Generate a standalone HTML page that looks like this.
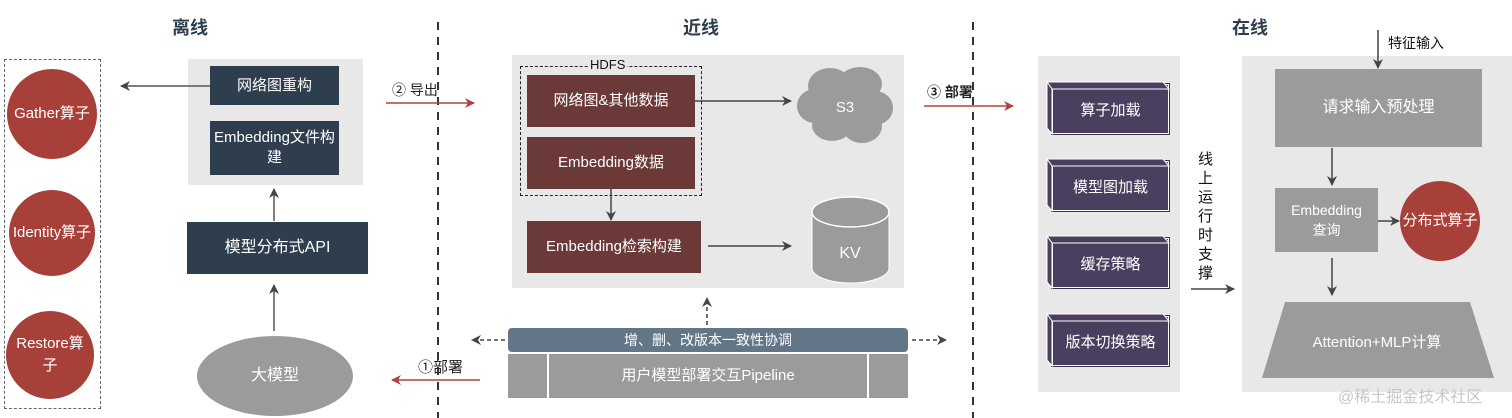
<!DOCTYPE html>
<html><head><meta charset="utf-8"><style>
*{margin:0;padding:0;box-sizing:border-box}
body{width:1512px;height:418px;background:#fff;position:relative;overflow:hidden;font-family:"Liberation Sans","Noto Sans CJK SC",sans-serif}
.a{position:absolute}
.box{position:absolute;display:flex;align-items:center;justify-content:center;text-align:center;color:#fff;font-size:15px;line-height:20px}
.h{position:absolute;font-size:18px;font-weight:bold;color:#2e3e4e}
.circ{position:absolute;border-radius:50%;background:#a8403a;color:#fff;display:flex;align-items:center;justify-content:center;text-align:center;font-size:15px;line-height:22px}
.pb{position:absolute;background:#4b3f5f;border:1.5px solid #fff;outline:1px solid #3a3048;color:#fff;display:flex;align-items:center;justify-content:center;font-size:15px}
</style></head><body>
<div class="h" style="left:172px;top:14px">离线</div>
<div class="h" style="left:683px;top:14px">近线</div>
<div class="h" style="left:1232px;top:14px">在线</div>

<div class="a" style="left:4px;top:59px;width:97px;height:350px;border:1.5px dashed #666"></div>
<div class="circ" style="left:7px;top:69px;width:90px;height:90px">Gather算子</div>
<div class="circ" style="left:9px;top:190px;width:86px;height:86px">Identity算子</div>
<div class="circ" style="left:6px;top:311px;width:88px;height:88px;padding:0 8px">Restore算子</div>

<div class="a" style="left:188px;top:59px;width:175px;height:126px;background:#e8e8e8"></div>
<div class="box" style="left:210px;top:66px;width:129px;height:39px;background:#2e3e4e">网络图重构</div>
<div class="box" style="left:210px;top:121px;width:129px;height:54px;background:#2e3e4e">Embedding文件构建</div>
<div class="box" style="left:187px;top:222px;width:181px;height:52px;background:#2e3e4e;font-size:16px">模型分布式API</div>
<div class="box" style="left:197px;top:336px;width:156px;height:80px;border-radius:50%;background:#9b9b9b;font-size:16px">大模型</div>

<div class="a" style="left:392px;top:80px;font-size:14px;color:#222">② 导出</div>
<div class="a" style="left:418px;top:356px;font-size:15px;color:#222">①部署</div>
<div class="a" style="left:927px;top:82px;font-size:14px;font-weight:bold;color:#222">③ 部署</div>

<div class="a" style="left:512px;top:55px;width:392px;height:233px;background:#e8e8e8"></div>
<div class="a" style="left:520px;top:66px;width:182px;height:130px;border:1.5px dashed #222"></div>
<div class="a" style="left:588px;top:57px;font-size:13px;color:#111;background:#e8e8e8;padding:0 2px">HDFS</div>
<div class="box" style="left:527px;top:75px;width:168px;height:52px;background:#6b3937">网络图&amp;其他数据</div>
<div class="box" style="left:527px;top:137px;width:168px;height:52px;background:#6b3937">Embedding数据</div>
<div class="box" style="left:527px;top:221px;width:174px;height:52px;background:#6b3937">Embedding检索构建</div>

<div class="box" style="left:508px;top:328px;width:400px;height:24px;background:#627688;border-radius:4px;font-size:14px">增、删、改版本一致性协调</div>
<div class="box" style="left:508px;top:354px;width:400px;height:44px;background:#9b9b9b;font-size:15px">用户模型部署交互Pipeline</div>
<div class="a" style="left:547px;top:354px;width:2px;height:44px;background:#fff"></div>
<div class="a" style="left:867px;top:354px;width:2px;height:44px;background:#fff"></div>

<div class="a" style="left:1038px;top:56px;width:142px;height:336px;background:#e8e8e8"></div>
<div class="pb" style="left:1052px;top:84px;width:117px;height:50px">算子加载</div>
<div class="pb" style="left:1052px;top:161px;width:117px;height:50px">模型图加载</div>
<div class="pb" style="left:1052px;top:238px;width:117px;height:50px">缓存策略</div>
<div class="pb" style="left:1052px;top:316px;width:117px;height:50px">版本切换策略</div>
<div class="a" style="left:1198px;top:150px;width:18px;font-size:15px;line-height:19px;color:#111">线上运行时支撑</div>

<div class="a" style="left:1242px;top:56px;width:270px;height:336px;background:#e8e8e8"></div>
<div class="a" style="left:1388px;top:33px;font-size:14px;color:#111">特征输入</div>
<div class="box" style="left:1275px;top:69px;width:207px;height:78px;background:#9b9b9b;font-size:16px">请求输入预处理</div>
<div class="box" style="left:1275px;top:188px;width:103px;height:64px;background:#9b9b9b;font-size:14px">Embedding<br>查询</div>
<div class="circ" style="left:1400px;top:181px;width:80px;height:80px;font-size:15px">分布式算子</div>
<div class="a" style="left:1338px;top:383px;font-size:16px;color:#c8c8c8">@稀土掘金技术社区</div>

<svg class="a" style="left:0;top:0" width="1512" height="418">
<defs>
<marker id="g" markerWidth="10" markerHeight="10" refX="9" refY="5" orient="auto" markerUnits="userSpaceOnUse"><path d="M0,0 L10,5 L0,10 L3,5z" fill="#444"/></marker>
<marker id="r" markerWidth="10" markerHeight="10" refX="9" refY="5" orient="auto" markerUnits="userSpaceOnUse"><path d="M0,0 L10,5 L0,10 L3,5z" fill="#b0413e"/></marker>
</defs>
<line x1="438" y1="22" x2="438" y2="418" stroke="#333" stroke-width="2" stroke-dasharray="8,7"/>
<line x1="973" y1="22" x2="973" y2="418" stroke="#333" stroke-width="2" stroke-dasharray="8,7"/>
<line x1="210" y1="86" x2="121" y2="86" stroke="#555" stroke-width="1.5" marker-end="url(#g)"/>
<line x1="274" y1="221" x2="274" y2="189" stroke="#555" stroke-width="1.5" marker-end="url(#g)"/>
<line x1="274" y1="331" x2="274" y2="285" stroke="#555" stroke-width="1.5" marker-end="url(#g)"/>
<line x1="386" y1="103" x2="474" y2="103" stroke="#b0413e" stroke-width="1.5" marker-end="url(#r)"/>
<line x1="480" y1="380" x2="392" y2="380" stroke="#b0413e" stroke-width="1.5" marker-end="url(#r)"/>
<line x1="924" y1="106" x2="1013" y2="106" stroke="#b0413e" stroke-width="1.5" marker-end="url(#r)"/>
<line x1="611" y1="189" x2="611" y2="220" stroke="#444" stroke-width="1.5" marker-end="url(#g)"/>
<line x1="695" y1="101" x2="791" y2="101" stroke="#444" stroke-width="1.5" marker-end="url(#g)"/>
<line x1="708" y1="246" x2="791" y2="246" stroke="#444" stroke-width="1.5" marker-end="url(#g)"/>
<g fill="#9b9b9b">
<ellipse cx="845" cy="105" rx="40" ry="28"/><ellipse cx="830" cy="86" rx="22" ry="18"/><ellipse cx="860" cy="84" rx="22" ry="17"/>
<ellipse cx="815" cy="106" rx="18" ry="17"/><ellipse cx="875" cy="108" rx="18" ry="17"/><ellipse cx="832" cy="125" rx="20" ry="16"/><ellipse cx="862" cy="126" rx="20" ry="17"/>
</g>
<text x="845" y="112" font-size="15" fill="#fff" text-anchor="middle" font-family="Liberation Sans">S3</text>
<path d="M812,212 L812,268 A38.5,15 0 0 0 889,268 L889,212" fill="#9b9b9b" stroke="#fff" stroke-width="1"/>
<ellipse cx="850.5" cy="212" rx="38.5" ry="15" fill="#9b9b9b" stroke="#fff" stroke-width="1.5"/>
<text x="850" y="258" font-size="16" fill="#fff" text-anchor="middle" font-family="Liberation Sans">KV</text>
<line x1="707" y1="325" x2="707" y2="298" stroke="#444" stroke-width="1.5" stroke-dasharray="4,3" marker-end="url(#g)"/>
<line x1="505" y1="340" x2="472" y2="340" stroke="#444" stroke-width="1.5" stroke-dasharray="4,3" marker-end="url(#g)"/>
<line x1="912" y1="340" x2="946" y2="340" stroke="#444" stroke-width="1.5" stroke-dasharray="4,3" marker-end="url(#g)"/>
<g fill="#4b3f5f" stroke="#fff" stroke-width="1">
<path d="M1047,82 L1163,82 L1169,89 L1052,89z"/><path d="M1047,82 L1052,89 L1052,134 L1047,128z"/>
<path d="M1047,159 L1163,159 L1169,166 L1052,166z"/><path d="M1047,159 L1052,166 L1052,211 L1047,205z"/>
<path d="M1047,236 L1163,236 L1169,243 L1052,243z"/><path d="M1047,236 L1052,243 L1052,288 L1047,282z"/>
<path d="M1047,314 L1163,314 L1169,321 L1052,321z"/><path d="M1047,314 L1052,321 L1052,366 L1047,360z"/>
</g>
<line x1="1191" y1="289" x2="1234" y2="289" stroke="#444" stroke-width="1.5" marker-end="url(#g)"/>
<line x1="1378" y1="30" x2="1378" y2="68" stroke="#444" stroke-width="1.5" marker-end="url(#g)"/>
<line x1="1332" y1="148" x2="1332" y2="185" stroke="#444" stroke-width="1.5" marker-end="url(#g)"/>
<line x1="1378" y1="221" x2="1399" y2="221" stroke="#444" stroke-width="1.5" marker-end="url(#g)"/>
<line x1="1332" y1="258" x2="1332" y2="295" stroke="#444" stroke-width="1.5" marker-end="url(#g)"/>
<path d="M1285,302 L1470,302 L1494,378 L1262,378z" fill="#9b9b9b"/>
<text x="1377" y="347" font-size="15" fill="#fff" text-anchor="middle" font-family="Liberation Sans, Noto Sans CJK SC, sans-serif">Attention+MLP计算</text>
</svg>
</body></html>
